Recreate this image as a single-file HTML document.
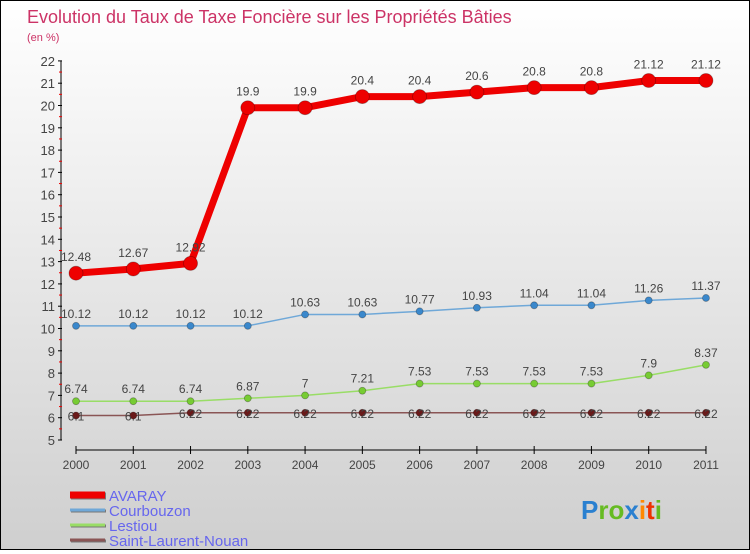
<!DOCTYPE html>
<html><head><meta charset="utf-8"><style>
html,body{margin:0;padding:0}
body{width:750px;height:550px;overflow:hidden;font-family:"Liberation Sans",sans-serif}
#wrap{position:absolute;left:0;top:0;width:748px;height:548px;border:1px solid #000;background:linear-gradient(#ffffff,#cfcfcf)}
</style></head><body>
<div id="wrap">
<svg id="chart" width="748" height="548"></svg>
</div>
<script>
const years=["2000","2001","2002","2003","2004","2005","2006","2007","2008","2009","2010","2011"];
const avaray=[12.48,12.67,12.92,19.9,19.9,20.4,20.4,20.6,20.8,20.8,21.12,21.12];
const courbouzon=[10.12,10.12,10.12,10.12,10.63,10.63,10.77,10.93,11.04,11.04,11.26,11.37];
const lestiou=[6.74,6.74,6.74,6.87,7,7.21,7.53,7.53,7.53,7.53,7.9,8.37];
const stlaurent=[6.1,6.1,6.22,6.22,6.22,6.22,6.22,6.22,6.22,6.22,6.22,6.22];
const yTicks=[5,6,7,8,9,10,11,12,13,14,15,16,17,18,19,20,21,22];
const labelsAvaray=["12.48","12.67","12.92","19.9","19.9","20.4","20.4","20.6","20.8","20.8","21.12","21.12"];
const labelsCourb=["10.12","10.12","10.12","10.12","10.63","10.63","10.77","10.93","11.04","11.04","11.26","11.37"];
const labelsLest=["6.74","6.74","6.74","6.87","7","7.21","7.53","7.53","7.53","7.53","7.9","8.37"];
const labelsStl=["6.1","6.1","6.22","6.22","6.22","6.22","6.22","6.22","6.22","6.22","6.22","6.22"];

const NS="http://www.w3.org/2000/svg";
const svg=document.getElementById('chart');
const X=i=>76+i*57.27-1;
const Y=v=>440-(v-5)*22.3-1;
function mk(tag,attrs,parent){const e=document.createElementNS(NS,tag);for(const k in attrs)e.setAttribute(k,attrs[k]);(parent||svg).appendChild(e);return e;}
function txt(x,y,s,size,fill,anchor){const t=mk('text',{x:x,y:y,'font-size':size,fill:fill,'text-anchor':anchor||'start','font-family':'Liberation Sans, sans-serif'});t.textContent=s;return t;}

let t=txt(26,22,"Evolution du Taux de Taxe Foncière sur les Propriétés Bâties",18,"#cc3366");


t=txt(26,40,"(en %)",11,"#cc3366");



// y axis
let a=mk('line',{x1:60,y1:Y(22),x2:60,y2:Y(5),stroke:'#000','stroke-width':1});


yTicks.forEach(v=>{
  mk('line',{x1:57,y1:Y(v),x2:61,y2:Y(v),stroke:'#000'});
  if(v<22) mk('line',{x1:58,y1:Y(v+0.5),x2:61,y2:Y(v+0.5),stroke:'#e00'});
  const l=txt(54,Y(v)+5,String(v),13,"#444","end");
  
  
});
// x axis
a=mk('line',{x1:X(0),y1:449,x2:X(11),y2:449,stroke:'#000'});


years.forEach((y,i)=>{
  mk('line',{x1:X(i),y1:445,x2:X(i),y2:453,stroke:'#000'});
  const l=txt(X(i),468,y,12,"#444","middle");
  
  
});

function series(vals,labels,color,dot,width,r,name,loff){
  const g=mk('g',{});
  
  
  const pts=vals.map((v,i)=>X(i)+','+Y(v)).join(' ');
  mk('polyline',{points:pts,fill:'none',stroke:color,'stroke-width':width,'stroke-linejoin':'round'},g);
  vals.forEach((v,i)=>{
    const c=mk('circle',{cx:X(i),cy:Y(v),r:r,fill:dot,stroke:'rgba(0,0,0,0.3)','stroke-width':0.8},g);
    
    
    const l=txt(X(i),Y(v)-loff,labels[i],12,"#444","middle");
    
    
    g.appendChild(l);
  });
}
series(stlaurent,labelsStl,'#8a5555','#6a1a1a',1.5,3.5,'saint-laurent-nouan',-5);
series(lestiou,labelsLest,'#99dd66','#77cc33',1.5,3.5,'lestiou',8);
series(courbouzon,labelsCourb,'#6fa8d8','#3a88cc',1.5,3.5,'courbouzon',8);
series(avaray,labelsAvaray,'#ee0000','#ee0000',7,7,'avaray',12);

// legend
const leg=[["AVARAY","#ee0000",7],["Courbouzon","#6fa8d8",3],["Lestiou","#99dd66",3],["Saint-Laurent-Nouan","#8a5555",3]];
leg.forEach((l,i)=>{
  const y=492+i*15;
  const g=mk('g',{});
  
  
  mk('line',{x1:70,y1:y+3,x2:105,y2:y+3,stroke:'#777','stroke-width':l[2]},g);
  mk('line',{x1:69,y1:y+2,x2:104,y2:y+2,stroke:l[1],'stroke-width':l[2]},g);
  const tt=txt(108,y+8,l[0],15,"#6666ee");
  g.appendChild(tt);
});
// logo
const lg=mk('text',{x:580,y:518,'font-size':26,'font-family':'Liberation Sans, sans-serif','font-weight':'bold'});


[["P","#2a80d0"],["ro","#66bb22"],["x","#2a80d0"],["i","#ff8800"],["t","#ee3300"],["i","#66bb22"]].forEach(p=>{const s=mk('tspan',{fill:p[1]},lg);s.textContent=p[0];});
</script>
</body></html>
